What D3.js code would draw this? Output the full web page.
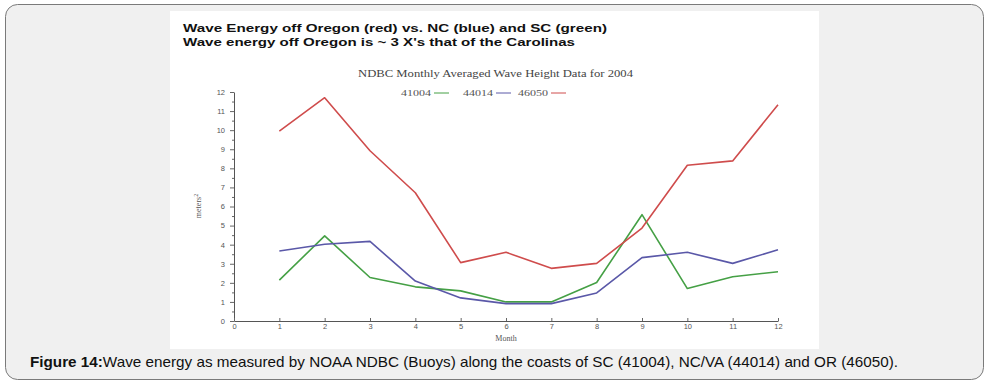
<!DOCTYPE html>
<html><head><meta charset="utf-8">
<script src="https://cdn.jsdelivr.net/npm/d3@7"></script>
<style>html,body{margin:0;padding:0;background:#fff;}svg{display:block;}</style>
</head><body>
<svg id="c" width="996" height="385"></svg>
<script>
const months = [1,2,3,4,5,6,7,8,9,10,11,12];
const s41004 = [2.14,4.46,2.28,1.79,1.58,1.0,1.0,2.02,5.57,1.70,2.32,2.58];
const s44014 = [3.67,4.02,4.17,2.09,1.21,0.91,0.91,1.47,3.32,3.60,3.02,3.73];
const s46050 = [9.95,11.7,8.92,6.72,3.06,3.60,2.76,3.02,4.87,8.16,8.39,11.33];
const xTicks = [0,1,2,3,4,5,6,7,8,9,10,11,12];
const yTicks = [0,1,2,3,4,5,6,7,8,9,10,11,12];
const seriesNames = ["41004","44014","46050"];
const seriesColors = ["#45a045","#5a58a8","#cf4c4c"];

const svg = d3.select("#c");
// outer card
svg.append("rect").attr("x",5.5).attr("y",4.5).attr("width",978).attr("height",375)
  .attr("rx",12).attr("fill","#f0f0f0").attr("stroke","#7a7a7a").attr("stroke-width",1);
// white image area
svg.append("rect").attr("x",170).attr("y",11).attr("width",649).attr("height",338).attr("fill","#fff");

// titles
svg.append("text").attr("x",183).attr("y",31.5).attr("font-family","Liberation Sans, Arial, sans-serif")
  .attr("font-weight","bold").attr("font-size",11.5).attr("fill","#111")
  .attr("textLength",424).attr("lengthAdjust","spacingAndGlyphs")
  .text("Wave Energy off Oregon (red) vs. NC (blue) and SC (green)");
svg.append("text").attr("x",183).attr("y",45.5).attr("font-family","Liberation Sans, Arial, sans-serif")
  .attr("font-weight","bold").attr("font-size",11.5).attr("fill","#111")
  .attr("textLength",392).attr("lengthAdjust","spacingAndGlyphs")
  .text("Wave energy off Oregon is ~ 3 X's that of the Carolinas");

svg.append("text").attr("x",358).attr("y",77).attr("font-family","Liberation Serif, Times New Roman, serif")
  .attr("font-size",9.5).attr("fill","#444")
  .attr("textLength",275).attr("lengthAdjust","spacingAndGlyphs")
  .text("NDBC Monthly Averaged Wave Height Data for 2004");

const x = d3.scaleLinear().domain([0,12]).range([234,778]);
const y = d3.scaleLinear().domain([0,12]).range([321,92]);

// legend
const legX = [401,463,518];
seriesNames.forEach((n,i)=>{
  svg.append("text").attr("x",legX[i]).attr("y",96).attr("font-family","Liberation Serif, Times New Roman, serif")
    .attr("font-size",9).attr("fill","#555").attr("textLength",30).attr("lengthAdjust","spacingAndGlyphs").text(n);
  svg.append("line").attr("x1",legX[i]+33).attr("x2",legX[i]+48).attr("y1",93).attr("y2",93)
    .attr("stroke",seriesColors[i]).attr("stroke-width",1);
});

// axes
const gx = svg.append("g").attr("transform","translate(0,321)")
  .call(d3.axisBottom(x).tickValues(xTicks).tickFormat(d3.format("d")).tickSize(0).tickPadding(3));
const gy = svg.append("g").attr("transform","translate(234,0)")
  .call(d3.axisLeft(y).tickValues(yTicks).tickFormat(d3.format("d")).tickSizeInner(4).tickSizeOuter(0).tickPadding(5));
// minor y ticks
svg.append("g").attr("transform","translate(234,0)")
  .call(d3.axisLeft(y).tickValues(d3.range(0.5,12,1)).tickFormat("").tickSizeInner(2).tickSizeOuter(0))
  .select(".domain").remove();
// x tick marks upward
svg.append("g").attr("transform","translate(0,321)")
  .call(d3.axisTop(x).tickValues(xTicks).tickFormat("").tickSizeInner(3).tickSizeOuter(0))
  .select(".domain").remove();
[gx,gy].forEach(g=>{
  g.selectAll("text").attr("font-family","Liberation Sans, Arial, sans-serif").attr("font-size",7.5).attr("fill","#555");
});
svg.selectAll(".domain").attr("stroke","#555");
svg.selectAll(".tick line").attr("stroke","#666");

svg.append("text").attr("x",506).attr("y",341).attr("text-anchor","middle")
  .attr("font-family","Liberation Serif, Times New Roman, serif").attr("font-size",8).attr("fill","#555").text("Month");
svg.append("text").attr("transform","translate(201,206) rotate(-90)").attr("text-anchor","middle")
  .attr("font-family","Liberation Serif, Times New Roman, serif").attr("font-size",8).attr("fill","#555")
  .html('meters<tspan dy="-3" font-size="6">2</tspan>');

// lines
const line = d3.line().x((d,i)=>x(months[i])).y(d=>y(d));
[s41004,s44014,s46050].forEach((s,i)=>{
  svg.append("path").datum(s).attr("d",line).attr("fill","none")
    .attr("stroke",seriesColors[i]).attr("stroke-width",1.6).attr("stroke-linejoin","round");
});

// caption
const cap = svg.append("text").attr("x",30).attr("y",367).attr("font-family","Liberation Sans Narrow, Arial Narrow, Liberation Sans, Arial, sans-serif")
  .attr("font-size",14.5).attr("fill","#111").attr("textLength",868).attr("lengthAdjust","spacingAndGlyphs");
cap.append("tspan").attr("font-weight","bold").text("Figure 14:");
cap.append("tspan").text("Wave energy as measured by NOAA NDBC (Buoys) along the coasts of SC (41004), NC/VA (44014) and OR (46050).");
</script>
</body></html>
